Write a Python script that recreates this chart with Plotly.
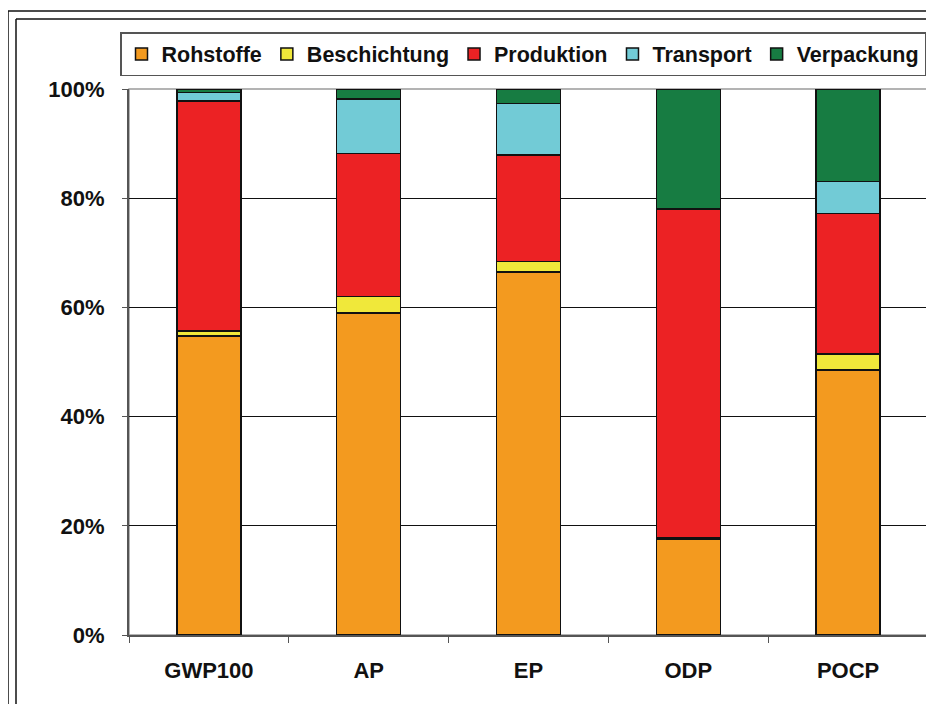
import plotly.graph_objects as go

categories = ["GWP100", "AP", "EP", "ODP", "POCP"]
series_names = ["Rohstoffe", "Beschichtung", "Produktion", "Transport", "Verpackung"]
rohstoffe = [54.8, 59.0, 66.5, 17.6, 48.5]
beschichtung = [0.9, 3.0, 1.9, 0.2, 3.0]
produktion = [42.1, 26.2, 19.5, 60.2, 25.7]
transport = [1.6, 10.0, 9.4, 0.0, 5.9]
verpackung = [0.6, 1.8, 2.7, 22.0, 16.9]
y_tick_vals = [0, 20, 40, 60, 80, 100]
y_tick_text = ["0%", "20%", "40%", "60%", "80%", "100%"]

colors = ["#F39A1F", "#F0E83A", "#EC2224", "#72CBD6", "#177C42"]
values = [rohstoffe, beschichtung, produktion, transport, verpackung]

# page has an 8px body margin; compute layout in page pixel coordinates
OFF = 8
W, H = 934, 704
P_LEFT, P_RIGHT, P_TOP, P_BOTTOM = 129, 928, 89, 635  # plot area in page px
ML = P_LEFT - OFF
MT = P_TOP - OFF
MR = W - (P_RIGHT - OFF)
MB = H - (P_BOTTOM - OFF)
PW, PH = P_RIGHT - P_LEFT, P_BOTTOM - P_TOP

def px_x(p):
    return (p - P_LEFT) / PW

def px_y(p):
    return (P_BOTTOM - p) / PH

FONT = "Liberation Sans, Arial, sans-serif"

fig = go.Figure()
for name, vals, col in zip(series_names, values, colors):
    fig.add_trace(go.Bar(
        x=categories, y=vals, name=name,
        marker=dict(color=col, line=dict(color="#111111", width=1.5)),
        width=0.4,
    ))

shapes = [
    dict(type="rect", xref="paper", yref="paper", x0=0, x1=1, y0=0, y1=1,
         line=dict(color="#9a9a9a", width=1.5), layer="between"),
]
for xo, yo in ((8, 11), (16, 19)):
    shapes.append(dict(type="line", xref="paper", yref="paper",
                       x0=px_x(xo), x1=px_x(xo), y0=px_y(yo), y1=px_y(H + 40),
                       line=dict(color="#111111", width=1.5)))
    shapes.append(dict(type="line", xref="paper", yref="paper",
                       x0=px_x(xo), x1=px_x(W + 40), y0=px_y(yo), y1=px_y(yo),
                       line=dict(color="#111111", width=1.5)))

fig.update_layout(
    width=W, height=H,
    margin=dict(l=ML, r=MR, t=MT, b=MB, autoexpand=False),
    barmode="stack",
    paper_bgcolor="white", plot_bgcolor="white",
    font=dict(family=FONT, color="#111111"),
    showlegend=True,
    legend=dict(
        orientation="h", traceorder="normal",
        x=px_x(120), y=px_y(32), xanchor="left", yanchor="top",
        font=dict(family=FONT, size=21.5, weight="bold", color="#111111"),
        bordercolor="#555555", borderwidth=1.5, bgcolor="white",
        itemwidth=30, tracegroupgap=0,
    ),
    shapes=shapes,
    xaxis=dict(
        showline=True, linecolor="#555555", linewidth=2,
        ticks="outside", tickson="boundaries", ticklen=6, tickcolor="#555555",
        tickfont=dict(family=FONT, size=22, weight="bold", color="#111111"),
        ticklabelstandoff=15,
        showgrid=False, fixedrange=True,
    ),
    yaxis=dict(
        range=[0, 100], tickvals=y_tick_vals, ticktext=y_tick_text,
        showline=True, linecolor="#555555", linewidth=2,
        ticks="outside", ticklen=5, tickcolor="#555555",
        tickfont=dict(family=FONT, size=22, weight="bold", color="#111111"),
        ticklabelstandoff=13,
        showgrid=True, gridcolor="#111111", gridwidth=1,
        zeroline=False, fixedrange=True,
    ),
)

fig.write_html("out.html")
